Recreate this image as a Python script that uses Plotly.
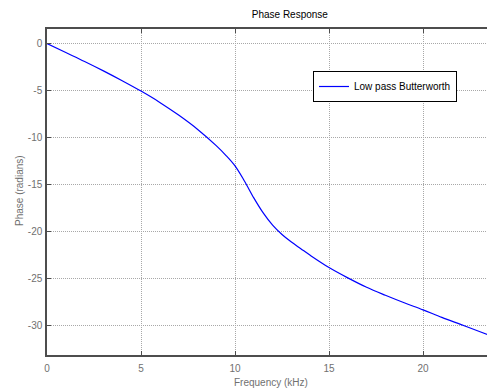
import plotly.graph_objects as go

freq_khz = [0, 1, 2, 3, 4, 5, 6, 7, 8, 9, 9.5, 10, 10.5, 11, 11.5, 12, 12.5, 13, 13.5, 14, 15, 16, 17, 18, 19, 20, 21, 22, 23, 23.85]
phase_rad = [0, -0.95, -1.9, -2.9, -3.95, -5.05, -6.25, -7.6, -9.1, -10.85, -11.85, -13.0, -14.6, -16.4, -18.0, -19.3, -20.3, -21.1, -21.8, -22.5, -23.8, -24.9, -25.9, -26.75, -27.55, -28.3, -29.1, -29.85, -30.6, -31.25]

x_ticks = [0, 5, 10, 15, 20]
x_tick_labels = ["0", "5", "10", "15", "20"]
y_ticks = [0, -5, -10, -15, -20, -25, -30]
y_tick_labels = ["0", "-5", "-10", "-15", "-20", "-25", "-30"]

series_name = "Low pass Butterworth"
title_text = "Phase Response"
x_label = "Frequency (kHz)"
y_label = "Phase (radians)"

font_family = "Liberation Sans, Arial, sans-serif"
grid_color = "#a8a8a8"
axis_color = "#4d4d4d"
tick_font_color = "#707070"

# the page body has an 8px default margin; figure is offset by it
OFF = 8
W, H = 495 - OFF, 392 - OFF
L, R, T = 47 - OFF, 0, 29 - OFF
B = H - (355 - OFF)
PW, PH = W - L - R, H - T - B


def px_x(x):
    return (x - OFF - L) / PW


def px_y(y):
    return (H - (y - OFF) - B) / PH


fig = go.Figure()
fig.add_trace(go.Scatter(
    x=freq_khz, y=phase_rad, mode="lines", name=series_name,
    line=dict(color="#0000ff", width=1.2, shape="spline", smoothing=1.0),
))

axis_common = dict(
    showline=True, linecolor=axis_color, linewidth=1.5, mirror="ticks",
    ticks="inside", ticklen=4, tickcolor=axis_color, tickwidth=1,
    showgrid=True, gridcolor=grid_color, gridwidth=1, griddash="1px,1px",
    zeroline=False, automargin=False,
    tickfont=dict(family=font_family, size=10, color=tick_font_color),
)

fig.update_layout(
    width=W, height=H,
    margin=dict(l=L, r=R, t=T, b=B, autoexpand=False),
    paper_bgcolor="white", plot_bgcolor="white",
    title=dict(text=title_text, x=(272 - OFF) / W, xanchor="center", xref="paper",
               y=1 - (14 - OFF) / H, yanchor="middle",
               font=dict(family=font_family, size=10, color="black")),
    xaxis=dict(range=[0, 23.83], tickvals=x_ticks, ticktext=x_tick_labels,
               ticklabelstandoff=3, **axis_common),
    yaxis=dict(range=[-33.1, 1.55], tickvals=y_ticks, ticktext=y_tick_labels,
               ticklabelstandoff=1, **axis_common),
    showlegend=True,
    legend=dict(x=px_x(313), y=px_y(71),
                xanchor="left", yanchor="top",
                bgcolor="white", bordercolor="black", borderwidth=1,
                font=dict(family=font_family, size=10, color="black"),
                itemwidth=30, tracegroupgap=0),
    annotations=[
        dict(text=x_label, x=px_x(271), y=px_y(382), xref="paper", yref="paper",
             showarrow=False, xanchor="center", yanchor="middle",
             font=dict(family=font_family, size=10, color=tick_font_color)),
        dict(text=y_label, x=px_x(19), y=px_y(191), xref="paper", yref="paper",
             showarrow=False, xanchor="center", yanchor="middle", textangle=-90,
             font=dict(family=font_family, size=10, color=tick_font_color)),
    ],
)

fig.write_html("out.html")
